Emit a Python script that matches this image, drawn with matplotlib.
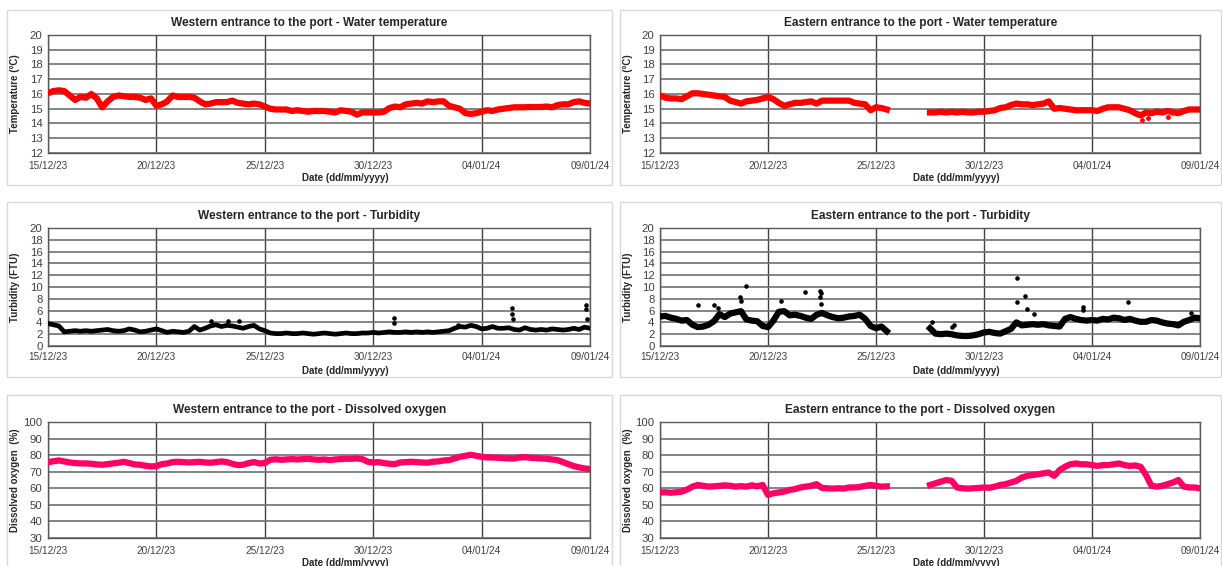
import numpy as np
import pandas as pd
import matplotlib
matplotlib.use("Agg")
from matplotlib import pyplot as plt
import matplotlib.dates as mdates
from matplotlib.patches import Rectangle

plt.rcParams['font.family'] = ['Liberation Sans', 'DejaVu Sans']

nan = np.nan

# readings every 6 hours, 15/12/23 00:00 .. 09/01/24 00:00
times = pd.date_range("2023-12-15", periods=101, freq="6h")
start = pd.Timestamp("2023-12-15")

west_temp = [16.05, 16.2, 16.25, 16.2,
             15.9, 15.6, 15.8, 15.75,
             16.0, 15.7, 15.1, 15.5,
             15.8, 15.9, 15.85, 15.8,
             15.8, 15.75, 15.6, 15.7,
             15.2, 15.3, 15.5, 15.9,
             15.8, 15.8, 15.8, 15.75,
             15.5, 15.3, 15.35, 15.45,
             15.45, 15.45, 15.55, 15.4,
             15.35, 15.3, 15.35, 15.3,
             15.15, 15.0, 14.95, 14.95,
             14.95, 14.85, 14.9, 14.85,
             14.8, 14.85, 14.85, 14.85,
             14.8, 14.75, 14.9, 14.85,
             14.8, 14.6, 14.75, 14.75,
             14.75, 14.75, 14.8, 15.05,
             15.15, 15.1, 15.3, 15.35,
             15.4, 15.35, 15.5, 15.45,
             15.5, 15.5, 15.2, 15.1,
             15.0, 14.7, 14.65, 14.7,
             14.8, 14.9, 14.85, 14.95,
             15.0, 15.05, 15.1, 15.1,
             15.1, 15.12, 15.12, 15.12,
             15.15, 15.1, 15.25, 15.3,
             15.3, 15.45, 15.5, 15.4,
             15.35]

east_temp = [15.9, 15.75, 15.7, 15.7,
             15.65, 15.85, 16.05, 16.05,
             16.0, 15.95, 15.9, 15.85,
             15.8, 15.55, 15.45, 15.35,
             15.5, 15.55, 15.6, 15.7,
             15.8, 15.65, 15.4, 15.2,
             15.3, 15.4, 15.4, 15.45,
             15.5, 15.35, 15.55, 15.55,
             15.55, 15.55, 15.55, 15.55,
             15.4, 15.35, 15.3, 14.9,
             15.1, 15.05, 14.95, nan,
             nan, nan, nan, nan,
             nan, nan, 14.75, 14.75,
             14.8, 14.75, 14.8, 14.75,
             14.8, 14.75, 14.75, 14.8,
             14.8, 14.85, 14.9, 15.05,
             15.1, 15.25, 15.35, 15.3,
             15.3, 15.25, 15.3, 15.35,
             15.5, 15.0, 15.05, 15.0,
             14.95, 14.9, 14.9, 14.9,
             14.9, 14.85, 15.0, 15.1,
             15.1, 15.1, 15.0, 14.9,
             14.7, 14.55, 14.75, 14.7,
             14.8, 14.75, 14.85, 14.75,
             14.7, 14.85, 14.95, 14.95,
             14.95]
east_temp_low_days = [22.3, 22.6, 23.5]
east_temp_low_vals = [14.25, 14.35, 14.45]

west_turb = [3.8, 3.6, 3.4, 2.4,
             2.5, 2.6, 2.5, 2.6,
             2.5, 2.6, 2.7, 2.8,
             2.6, 2.5, 2.6, 2.9,
             2.7, 2.4, 2.5, 2.7,
             2.9, 2.6, 2.3, 2.5,
             2.4, 2.3, 2.5, 3.3,
             2.7, 3.0, 3.4, 3.6,
             3.3, 3.5, 3.4, 3.2,
             3.0, 3.3, 3.5, 2.9,
             2.6, 2.2, 2.1, 2.1,
             2.2, 2.1, 2.1, 2.2,
             2.1, 2.0, 2.1, 2.2,
             2.1, 2.0, 2.1, 2.2,
             2.1, 2.1, 2.2, 2.2,
             2.3, 2.2, 2.3, 2.4,
             2.3, 2.3, 2.4, 2.3,
             2.4, 2.3, 2.4, 2.3,
             2.4, 2.5, 2.6, 3.0,
             3.3, 3.2, 3.5, 3.3,
             2.9, 3.0, 3.3, 3.0,
             3.0, 3.1, 2.8, 2.7,
             3.1, 2.8, 2.7, 2.8,
             2.7, 2.9, 2.8, 2.7,
             2.8, 3.0, 2.8, 3.2,
             3.0]
west_turb_spike_days = [7.5, 8.3, 8.8, 15.95, 15.95, 18.9, 21.4, 21.4, 21.45, 24.8, 24.8, 24.85]
west_turb_spike_vals = [4.2, 4.3, 4.2, 4.8, 3.9, 3.6, 6.5, 5.5, 4.6, 6.3, 7.0, 4.6]

east_turb = [5.0, 5.1, 4.8, 4.6,
             4.3, 4.4, 3.6, 3.2,
             3.3, 3.6, 4.2, 5.4,
             4.9, 5.5, 5.7, 5.9,
             4.5, 4.3, 4.2, 3.4,
             3.2, 4.3, 5.8, 5.9,
             5.2, 5.3, 5.1, 4.8,
             4.6, 5.3, 5.6, 5.2,
             4.9, 4.7, 4.8, 5.0,
             5.1, 5.3, 4.6, 3.4,
             3.0, 3.3, 2.5, nan,
             nan, nan, nan, nan,
             nan, nan, 3.0, 2.1,
             2.0, 2.1, 2.0, 1.8,
             1.7, 1.7, 1.8, 2.0,
             2.3, 2.4, 2.2, 2.1,
             2.5, 2.9, 4.0, 3.5,
             3.6, 3.7, 3.6, 3.7,
             3.5, 3.4, 3.3, 4.6,
             4.9, 4.6, 4.4, 4.3,
             4.4, 4.3, 4.6, 4.5,
             4.8, 4.7, 4.4, 4.6,
             4.3, 4.1, 4.1, 4.4,
             4.3, 4.0, 3.8, 3.7,
             3.5, 4.1, 4.4, 4.8,
             4.7]
east_turb_spike_days = [1.77, 2.5, 2.7, 3.7, 3.75, 4.0, 5.6, 6.7, 7.4, 7.45, 7.4, 7.45,
                        12.6, 13.5, 13.6, 16.55, 16.55, 16.9, 17.0, 17.3, 19.6, 19.6, 21.65, 24.6]
east_turb_spike_vals = [6.9, 7.0, 6.5, 8.3, 7.6, 10.2, 7.7, 9.2, 9.3, 8.9, 8.3, 7.2,
                        4.0, 3.2, 3.6, 11.6, 7.5, 8.5, 6.3, 5.5, 6.6, 6.1, 7.5, 5.6]

west_do = [75.8, 76.3, 76.8, 76.2,
           75.6, 75.2, 75.0, 75.0,
           74.8, 74.4, 74.2, 74.6,
           75.0, 75.4, 76.0, 75.2,
           74.4, 74.2, 73.6, 73.2,
           73.4, 74.6, 75.0, 75.8,
           76.0, 75.8, 75.6, 75.8,
           76.0, 75.6, 75.4, 75.8,
           76.2, 75.8, 74.8, 74.0,
           74.2, 75.2, 75.8, 75.0,
           75.2, 77.2, 77.5, 77.2,
           77.4, 77.6, 77.4, 77.6,
           77.8, 77.4, 77.2, 77.4,
           77.0, 77.4, 77.6, 77.8,
           77.8, 78.0, 77.6, 76.0,
           75.6, 75.8, 75.2, 74.8,
           74.6, 75.6, 75.8, 76.0,
           75.8, 75.6, 75.4, 76.0,
           76.2, 76.8, 77.0, 78.0,
           79.0, 79.6, 80.2, 79.6,
           79.0, 78.6, 78.6, 78.4,
           78.2, 78.0, 78.0, 78.6,
           78.8, 78.4, 78.2, 78.0,
           77.8, 77.4, 77.0, 75.8,
           74.6, 73.4, 72.6, 72.0,
           71.6]

east_do = [57.5, 57.6, 57.3, 57.6,
           58.0, 59.2, 61.0, 62.0,
           61.5, 61.0, 61.2, 61.5,
           61.8, 61.5, 61.0, 61.3,
           61.0, 61.8, 61.2, 62.0,
           56.0, 57.0, 57.5, 58.0,
           59.0, 59.5, 60.5, 61.0,
           61.5, 62.5, 60.2, 60.0,
           59.8, 60.0, 59.8, 60.5,
           60.5, 60.8, 61.5, 62.0,
           61.5, 61.0, 61.2, nan,
           nan, nan, nan, nan,
           nan, nan, 62.0, 63.0,
           64.0, 65.0, 64.5, 60.5,
           60.0, 59.8, 60.0, 60.2,
           60.5, 60.3, 61.0, 62.0,
           62.5, 63.5, 64.5, 66.5,
           67.5, 68.0, 68.5, 69.0,
           69.5, 67.5, 71.0, 73.0,
           74.5, 75.0, 74.5, 74.5,
           74.0, 73.5, 74.0, 74.0,
           74.5, 75.0, 74.0, 73.5,
           73.8, 73.0, 68.0, 61.5,
           61.0, 61.5, 62.5, 63.5,
           65.0, 61.0, 60.5, 60.5,
           60.0]

W, H = 1222, 566
fig = plt.figure(figsize=(W / 100, H / 100), dpi=100)


def box(x0, y0, x1, y1):
    fig.patches.append(Rectangle((x0 / W, 1 - y1 / H), (x1 - x0) / W, (y1 - y0) / H,
                                 transform=fig.transFigure, fill=False,
                                 edgecolor="#d9d9d9", linewidth=1.0))


def panel(x0, x1, y0, y1, ymin, ymax, ystep, ylabel, title, bx, by0, by1, pad):
    box(bx[0], by0, bx[1], by1)
    ax = fig.add_axes([x0 / W, 1 - y1 / H, (x1 - x0) / W, (y1 - y0) / H])
    ax.set_xlim(pd.Timestamp("2023-12-15"), pd.Timestamp("2024-01-09"))
    ax.set_ylim(ymin, ymax)
    ax.set_yticks(np.arange(ymin, ymax + ystep / 2, ystep))
    ax.xaxis.set_major_locator(mdates.DayLocator(bymonthday=[15, 20, 25, 30, 4, 9]))
    ax.xaxis.set_major_formatter(mdates.DateFormatter("%d/%m/%y"))
    ax.grid(axis="y", color="#6f6f6f", linewidth=1.2, zorder=0)
    ax.grid(axis="x", color="#404040", linewidth=1.0, zorder=0)
    ax.set_axisbelow(True)
    for s in ax.spines.values():
        s.set_color("#595959")
        s.set_linewidth(1.0)
    ax.tick_params(axis="both", length=0, colors="#404040")
    ax.tick_params(axis="x", pad=pad, labelsize=7.2)
    ax.tick_params(axis="y", pad=4, labelsize=8.2)
    ax.set_ylabel(ylabel, fontsize=7, fontweight="bold", color="#262626")
    ax.yaxis.set_label_coords((bx[0] + 13 - x0) / (x1 - x0), 0.5)
    cx = (bx[0] + bx[1]) / 2
    fig.text(cx / W, 1 - (y0 - 12) / H, title, ha="center", va="center",
             fontsize=8.6, fontweight="bold", color="#262626")
    fig.text((cx + 36) / W, 1 - (y1 + 25) / H, "Date (dd/mm/yyyy)", ha="center", va="center",
             fontsize=7, fontweight="bold", color="#262626")
    return ax


WX = (48, 590)
EX = (660, 1200)
WB = (7, 612)
EB = (620, 1221)


def days_to_time(d):
    return start + pd.to_timedelta(d, unit="D")


# temperature
ax = panel(*WX, 35, 153, 12, 20, 1, "Temperature (°C)",
           "Western entrance to the port - Water temperature", WB, 10, 185, 6)
ax.plot(times, west_temp, color="#ff0000", lw=4.5, solid_joinstyle="round", zorder=3)

ax = panel(*EX, 35, 153, 12, 20, 1, "Temperature (°C)",
           "Eastern entrance to the port - Water temperature", EB, 10, 185, 6)
ax.plot(times, east_temp, color="#ff0000", lw=4.5, solid_joinstyle="round", zorder=3)
ax.plot(days_to_time(east_temp_low_days), east_temp_low_vals, "o", color="#ff0000", ms=2.5, zorder=3)

# turbidity
ax = panel(*WX, 228, 346, 0, 20, 2, "Turbidity (FTU)",
           "Western entrance to the port - Turbidity", WB, 202, 377, 4)
ax.plot(times, west_turb, color="black", lw=3.4, solid_joinstyle="round", zorder=3)
ax.plot(days_to_time(west_turb_spike_days), west_turb_spike_vals, "o", color="black", ms=2.3, zorder=3)

ax = panel(*EX, 228, 346, 0, 20, 2, "Turbidity (FTU)",
           "Eastern entrance to the port - Turbidity", EB, 202, 377, 4)
ax.plot(times, east_turb, color="black", lw=4.5, solid_joinstyle="round", zorder=3)
ax.plot(days_to_time(east_turb_spike_days), east_turb_spike_vals, "o", color="black", ms=2.3, zorder=3)

# dissolved oxygen
ax = panel(*WX, 422, 538, 30, 100, 10, "Dissolved oxygen  (%)",
           "Western entrance to the port - Dissolved oxygen", WB, 395, 580, 6)
ax.plot(times, west_do, color="#ff0066", lw=4.5, solid_joinstyle="round", zorder=3)

ax = panel(*EX, 422, 538, 30, 100, 10, "Dissolved oxygen  (%)",
           "Eastern entrance to the port - Dissolved oxygen", EB, 395, 580, 6)
ax.plot(times, east_do, color="#ff0066", lw=4.5, solid_joinstyle="round", zorder=3)

fig.savefig("out.png", dpi=100, facecolor="white")
